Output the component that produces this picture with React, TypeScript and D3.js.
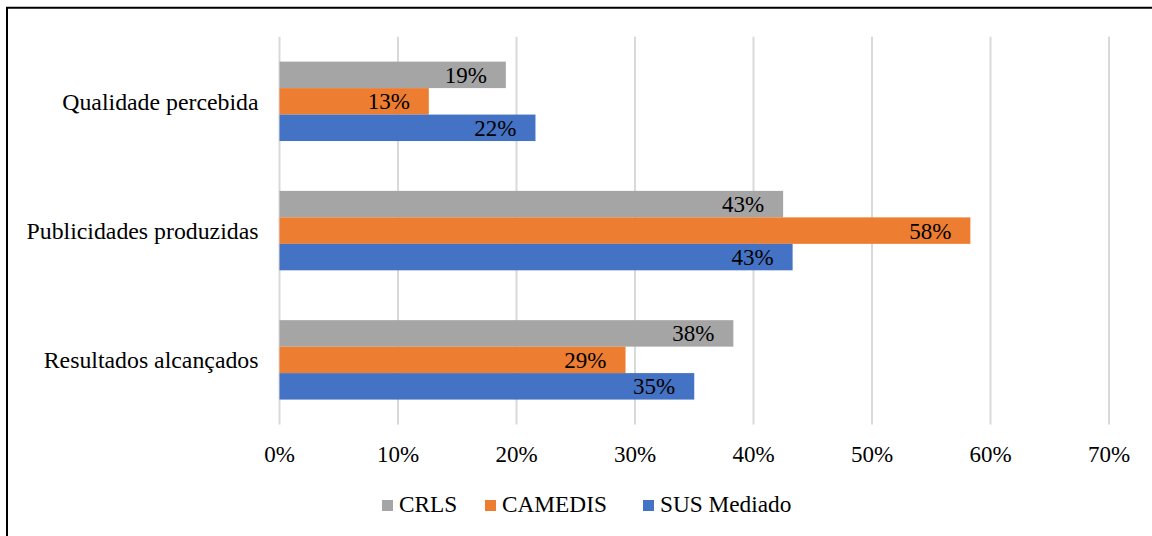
import { useRef, useEffect } from "react";
import * as d3 from "d3";

// categories, top to bottom
const categories = [
  "Qualidade percebida",
  "Publicidades produzidas",
  "Resultados alcançados",
];

// series (top bar first inside each group)
const seriesNames = ["CRLS", "CAMEDIS", "SUS Mediado"];
const crls = [0.191, 0.425, 0.383];
const camedis = [0.126, 0.583, 0.292];
const susMediado = [0.216, 0.433, 0.35];

const xTicks = [0, 0.1, 0.2, 0.3, 0.4, 0.5, 0.6, 0.7];

const colors = ["#a5a5a5", "#ed7d31", "#4472c4"];

const W = 1152;
const H = 536;

export default function App() {
  const svgRef = useRef<SVGSVGElement | null>(null);

  useEffect(() => {
    const svg = d3.select(svgRef.current);
    svg.selectAll("*").remove();

    const font = "'Liberation Serif', 'Times New Roman', serif";
    const fontSize = 23;

    svg.append("rect").attr("width", W).attr("height", H).attr("fill", "#fff");

    // outer frame (only top and left edges show in the crop)
    svg
      .append("path")
      .attr("d", `M7,${H + 5} L7,7.7 L${W + 5},7.7`)
      .attr("fill", "none")
      .attr("stroke", "#000")
      .attr("stroke-width", 2);

    const plotTop = 36.7;
    const plotBottom = 424.5;

    const x = d3.scaleLinear().domain([0, 0.7]).range([279.5, 1109]);

    const y = d3
      .scaleBand<string>()
      .domain(categories)
      .range([plotTop, plotBottom])
      .paddingInner(0.3856)
      .paddingOuter(0.1928);

    const ySub = d3
      .scaleBand<string>()
      .domain(seriesNames)
      .range([0, y.bandwidth()]);

    // grid
    svg
      .append("g")
      .selectAll("line")
      .data(xTicks)
      .join("line")
      .attr("x1", (d) => x(d))
      .attr("x2", (d) => x(d))
      .attr("y1", plotTop)
      .attr("y2", plotBottom)
      .attr("stroke", "#d9d9d9")
      .attr("stroke-width", 2);

    // tick labels
    svg
      .append("g")
      .selectAll("text")
      .data(xTicks)
      .join("text")
      .attr("x", (d) => x(d))
      .attr("y", 461.5)
      .attr("text-anchor", "middle")
      .attr("font-family", font)
      .attr("font-size", fontSize)
      .attr("fill", "#000")
      .text((d) => d3.format(".0%")(d));

    // category labels
    svg
      .append("g")
      .selectAll("text")
      .data(categories)
      .join("text")
      .attr("x", 258.5)
      .attr("y", (d) => (y(d) as number) + y.bandwidth() / 2 + 8.5)
      .attr("text-anchor", "end")
      .attr("font-family", font)
      .attr("font-size", 23.8)
      .attr("fill", "#000")
      .text((d) => d);

    const series = [crls, camedis, susMediado];

    series.forEach((values, si) => {
      const name = seriesNames[si];
      const g = svg.append("g");
      g.selectAll("rect")
        .data(values)
        .join("rect")
        .attr("x", x(0))
        .attr("y", (_, i) => (y(categories[i]) as number) + (ySub(name) as number))
        .attr("width", (d) => x(d) - x(0))
        .attr("height", ySub.bandwidth())
        .attr("fill", colors[si]);

      // value labels, inside end
      g.selectAll("text")
        .data(values)
        .join("text")
        .attr("x", (d) => x(d) - 19)
        .attr(
          "y",
          (_, i) =>
            (y(categories[i]) as number) +
            (ySub(name) as number) +
            ySub.bandwidth() / 2 +
            8
        )
        .attr("text-anchor", "end")
        .attr("font-family", font)
        .attr("font-size", fontSize)
        .attr("fill", "#000")
        .text((d) => d3.format(".0%")(d));
    });

    // legend
    const legendX = [382, 485, 643];
    const legend = svg.append("g");
    seriesNames.forEach((name, i) => {
      legend
        .append("rect")
        .attr("x", legendX[i])
        .attr("y", 500)
        .attr("width", 11)
        .attr("height", 11)
        .attr("fill", colors[i]);
      legend
        .append("text")
        .attr("x", legendX[i] + 17)
        .attr("y", 511.5)
        .attr("font-family", font)
        .attr("font-size", 23.3)
        .attr("fill", "#000")
        .text(name);
    });
  }, []);

  return (
    <svg
      ref={svgRef}
      width={W}
      height={H}
      style={{ position: "absolute", left: 0, top: 0, display: "block" }}
    />
  );
}
